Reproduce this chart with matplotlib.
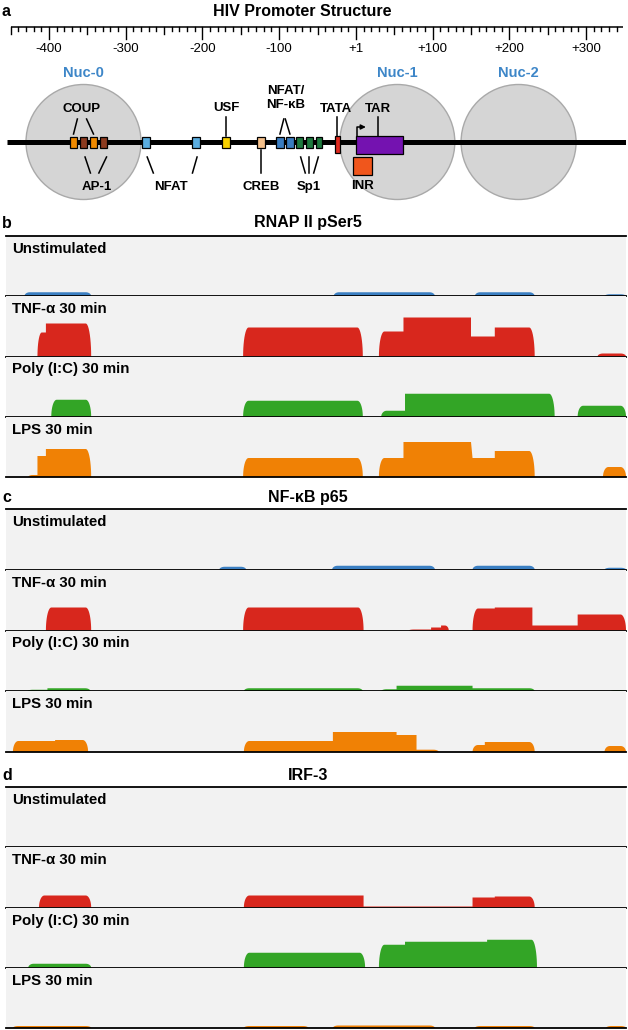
import numpy as np
import matplotlib
matplotlib.use("Agg")
import matplotlib.pyplot as plt
from matplotlib.patches import Ellipse, Rectangle

plt.rcParams['font.family'] = ['Liberation Sans', 'DejaVu Sans']

W, H = 628, 1030
LEFT_PX, RIGHT_PX = 6, 626
XLIM = (-456, 352)
PX_PER_BP = (RIGHT_PX - LEFT_PX) / (XLIM[1] - XLIM[0])

# ---- panel a data: promoter elements (bp relative to +1) ----
ruler_start, ruler_end = -450, 348
major_ticks = [-400, -300, -200, -100, 0, 100, 200, 300]
major_labels = ["-400", "-300", "-200", "-100", "+1", "+100", "+200", "+300"]

nuc_names = ["Nuc-0", "Nuc-1", "Nuc-2"]
nuc_centers = [-355, 54, 212]

site_names = ["COUP", "AP-1", "COUP", "AP-1", "NFAT", "NFAT", "USF", "CREB",
              "NF-κB", "NF-κB", "Sp1", "Sp1", "Sp1", "TATA", "TAR", "INR"]
site_start = [-373, -359, -347, -334, -279, -213, -174, -129,
              -104, -91, -78, -65, -52, -27, 0, -4]
site_end = [-363, -350, -338, -324, -268, -203, -164, -119,
            -94, -81, -69, -56, -44, -21, 61, 21]
site_colors = ["#f08a00", "#8c3b1f", "#f08a00", "#8c3b1f", "#5aade0", "#5aade0",
               "#f7d000", "#f5c08a", "#3a7cc0", "#3a7cc0", "#1d7a3e", "#1d7a3e",
               "#1d7a3e", "#e02a1f", "#7412b0", "#f0561c"]

# ---- ChIP tracks: (start bp, end bp, signal) ----
conditions = ["Unstimulated", "TNF-α 30 min", "Poly (I:C) 30 min", "LPS 30 min"]
track_colors = ["#3b7fc2", "#d8271d", "#33a526", "#f08105"]

rnap_unstim = [(-432, -345, 4), (-29, 103, 4), (155, 233, 4), (324, 352, 2)]
rnap_tnf = [(-415, -404, 24), (-404, -345, 33), (-147, 9, 29),
            (30, 62, 25), (62, 150, 39), (150, 181, 20), (181, 233, 29),
            (315, 352, 3)]
rnap_poly = [(-397, -345, 17), (-147, 9, 16), (33, 64, 6), (64, 259, 23),
             (289, 352, 11)]
rnap_lps = [(-427, -415, 2), (-415, -404, 21), (-404, -345, 28), (-147, 9, 19),
            (30, 62, 19), (62, 150, 35), (152, 181, 19), (181, 233, 26),
            (322, 352, 10)]

p65_unstim = [(-178, -143, 3), (-31, 103, 4), (152, 233, 4), (324, 352, 2)]
p65_tnf = [(-404, -345, 23), (-147, 10, 23), (69, 98, 1), (98, 111, 3),
           (111, 121, 5), (152, 181, 22), (181, 230, 23), (230, 289, 5),
           (289, 352, 16)]
p65_poly = [(-428, -402, 1.5), (-402, -346, 3), (-146, 9, 3), (33, 53, 2),
            (53, 152, 5.5), (152, 233, 3), (332, 352, 1)]
p65_lps = [(-447, -392, 11), (-392, -349, 12), (-146, -30, 11), (-30, 53, 20),
           (53, 79, 17), (79, 108, 2.3), (152, 168, 7), (168, 233, 10),
           (324, 352, 6)]

irf3_unstim = []
irf3_tnf = [(-413, -345, 12), (-146, 10, 12), (10, 152, 1), (152, 181, 10),
            (181, 233, 11)]
irf3_poly = [(-427, -345, 4), (-146, 12, 15), (30, 64, 23), (64, 171, 26),
             (171, 236, 28)]
irf3_lps = [(-447, -345, 2), (-146, -62, 2), (-30, 103, 2.5), (155, 233, 2),
            (326, 352, 2)]

panels = [
    ("b", "RNAP II pSer5", 223, 236, 60.25, [rnap_unstim, rnap_tnf, rnap_poly, rnap_lps]),
    ("c", "NF-κB p65", 498, 509, 60.75, [p65_unstim, p65_tnf, p65_poly, p65_lps]),
    ("d", "IRF-3", 775, 787, 60.25, [irf3_unstim, irf3_tnf, irf3_poly, irf3_lps]),
]

fig = plt.figure(figsize=(W / 100, H / 100), dpi=100)


def add_ax(top, bottom):
    return fig.add_axes([LEFT_PX / W, 1 - bottom / H,
                         (RIGHT_PX - LEFT_PX) / W, (bottom - top) / H])


def group_blocks(segs):
    blocks = []
    for s in segs:
        if blocks and abs(blocks[-1][-1][1] - s[0]) < 3:
            blocks[-1].append(s)
        else:
            blocks.append([s])
    return blocks


def block_outline(block, r=7):
    # step profile with rounded outer corners (IGV-like look)
    t = np.linspace(0, np.pi / 2, 12)
    x0, h0 = block[0][0], block[0][2]
    x1, h1 = block[-1][1], block[-1][2]
    rl = min(r, (block[0][1] - block[0][0]) / 2)
    rr = min(r, (block[-1][1] - block[-1][0]) / 2)
    xs = list(x0 + rl * (1 - np.cos(t)))
    ys = list(h0 * np.sin(t))
    for i, (s, e, h) in enumerate(block):
        if i > 0:
            xs.append(s)
            ys.append(h)
        if i < len(block) - 1:
            xs.append(e)
            ys.append(h)
    xs += list(x1 - rr * (1 - np.cos(t[::-1])))
    ys += list(h1 * np.sin(t[::-1]))
    return xs, ys


def letter(x, y, s):
    fig.text(x / W, 1 - y / H, s, fontsize=11.5, fontweight='bold',
             ha='left', va='center')


# ================= panel a =================
ax = add_ax(0, 212)
ax.set_xlim(XLIM)
ax.set_ylim(212, 0)
ax.axis('off')

letter(2, 12, "a")
ax.text(-70, 12, "HIV Promoter Structure", fontsize=11.5, fontweight='bold',
        ha='center', va='center')

# ruler
ax.plot([ruler_start, ruler_end], [27, 27], color='black', lw=1.1,
        solid_capstyle='butt')
for t in range(ruler_start, ruler_end, 10):
    if t % 100 == 0:
        ln = 12
    elif t % 50 == 0:
        ln = 7
    else:
        ln = 4
    ax.plot([t, t], [27, 27 + ln], color='black', lw=1.0)
for t, lab in zip(major_ticks, major_labels):
    ax.text(t, 49, lab, fontsize=9.5, ha='center', va='center')

# nucleosomes
for name, c in zip(nuc_names, nuc_centers):
    ax.add_patch(Ellipse((c, 142), width=115 / PX_PER_BP, height=115,
                         facecolor='#d5d5d5', edgecolor='#a9a9a9', lw=1,
                         zorder=1))
    ax.text(c, 73, name, fontsize=10.5, fontweight='bold', color='#3d86c8',
            ha='center', va='center')

# DNA
ax.plot([-455, 352], [142, 142], color='black', lw=3.6, zorder=2,
        solid_capstyle='butt')

# boxes
special_y = {"TATA": (136, 153), "TAR": (136, 154), "INR": (157, 175)}
for name, s, e, col in zip(site_names, site_start, site_end, site_colors):
    y0, y1 = special_y.get(name, (136.5, 147.5))
    ax.add_patch(Rectangle((s, y0), e - s, y1 - y0, facecolor=col,
                           edgecolor='black', lw=0.9, zorder=3))

lab_kw = dict(fontsize=9.5, fontweight='bold', ha='center', va='center')
ax.text(-357, 109, "COUP", **lab_kw)
ax.text(-338, 187, "AP-1", **lab_kw)
ax.text(-241, 187, "NFAT", **lab_kw)
ax.text(-169, 108, "USF", **lab_kw)
ax.text(-123, 187, "CREB", **lab_kw)
ax.text(-91, 98, "NFAT/\nNF-κB", fontsize=9.5, fontweight='bold',
        ha='center', va='center', linespacing=1.2)
ax.text(-61, 187, "Sp1", **lab_kw)
ax.text(-26, 109, "TATA", **lab_kw)
ax.text(29, 109, "TAR", **lab_kw)
ax.text(9, 186, "INR", **lab_kw)

leaders = [
    ((-363, 119), (-368, 134)), ((-351, 119), (-342, 134)),
    ((-353, 157), (-346, 173)), ((-325, 157), (-335, 173)),
    ((-272, 157), (-264, 173)), ((-207, 157), (-213, 173)),
    ((-169, 117), (-169, 136)), ((-124, 150), (-124, 173)),
    ((-94, 119), (-99, 134)), ((-92, 119), (-86, 134)),
    ((-72, 157), (-66, 173)), ((-61, 157), (-61, 173)), ((-49, 157), (-55, 173)),
    ((-24, 117), (-24, 136)), ((29, 117), (29, 136)),
]
for (xa, ya), (xb, yb) in leaders:
    ax.plot([xa, xb], [ya, yb], color='black', lw=1.1, zorder=4)

# TSS arrow
ax.plot([1, 1, 7], [136, 127, 127], color='black', lw=1.1, zorder=4)
ax.annotate("", xy=(13, 127), xytext=(6, 127),
            arrowprops=dict(arrowstyle='-|>', color='black', lw=1.1,
                            mutation_scale=7, shrinkA=0, shrinkB=0))

# ================= ChIP panels =================
for let, title, ty, top, th, tracks in panels:
    letter(2, ty, let)
    fig.text(308 / W, 1 - ty / H, title, fontsize=11.5,
             fontweight='bold', ha='center', va='center')
    for i, (cond, col, segs) in enumerate(zip(conditions, track_colors, tracks)):
        tax = add_ax(top + i * th, top + (i + 1) * th)
        tax.set_xlim(XLIM)
        tax.set_ylim(0, th)
        tax.set_facecolor('#f2f2f2')
        tax.set_xticks([])
        tax.set_yticks([])
        for sp in ['left', 'right']:
            tax.spines[sp].set_visible(False)
        tax.spines['top'].set_visible(i == 0)
        tax.spines['top'].set_linewidth(1.3)
        tax.spines['bottom'].set_linewidth(1.3)
        tax.spines['bottom'].set_zorder(5)
        for block in group_blocks(segs):
            xs, ys = block_outline(block)
            tax.fill(xs, ys, color=col, lw=0, zorder=2)
        tax.text(6 / (RIGHT_PX - LEFT_PX), 1 - 13 / th, cond,
                 transform=tax.transAxes, fontsize=10.8, fontweight='bold',
                 ha='left', va='center')

fig.savefig("out.png", dpi=100)
